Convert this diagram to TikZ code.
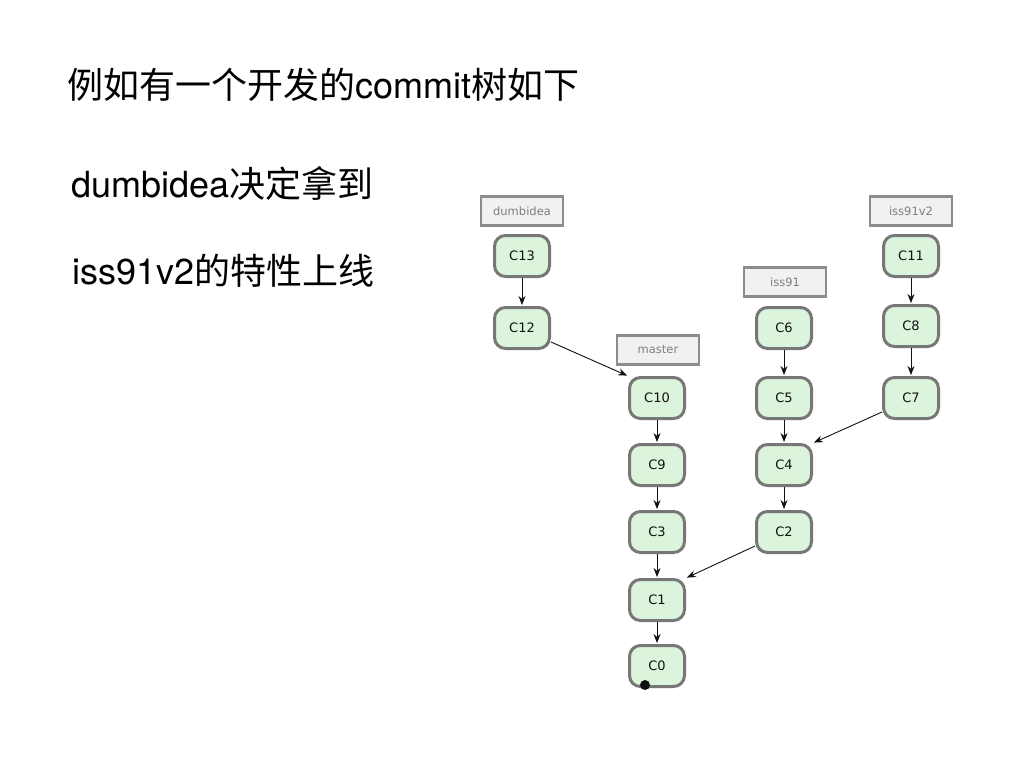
\documentclass[tikz,border=0pt]{standalone}
\usepackage{fontspec}
\usepackage{xcolor}
\usepackage{tikz}
\usetikzlibrary{arrows.meta,positioning}
\setmainfont{TeX Gyre Heros}
\newfontfamily\cjk{Noto Sans CJK SC}
\newfontfamily\lucida{DejaVu Sans}
\definecolor{ink}{HTML}{111111}
\definecolor{cgreen}{HTML}{DDF4DC}
\definecolor{cedge}{HTML}{777777}
\definecolor{lfill}{HTML}{F1F1F1}
\definecolor{ledge}{HTML}{8C8C8C}
\definecolor{ltext}{HTML}{7F7F7F}
\tikzset{
  commit/.style={draw=cedge, fill=cgreen, line width=3pt, rounded corners=11pt,
    minimum width=55pt, minimum height=41pt, inner sep=0pt,
    font=\lucida\fontsize{13}{15}\selectfont, text=ink},
  branch/.style={draw=ledge, fill=lfill, line width=2.4pt, minimum width=82pt,
    minimum height=29pt, inner sep=0pt, font=\lucida\fontsize{11.5}{13}\selectfont, text=ltext},
  parent/.style={-{Stealth[length=9pt,width=7pt]}, ink, line width=0.9pt, shorten >=1pt},
  slide/.style={anchor=base west, inner sep=0pt, font=\fontsize{36}{42}\selectfont},
}
\begin{document}
\begin{tikzpicture}[x=1pt, y=-1pt]
\useasboundingbox[fill=white] (0,0) rectangle (1024,768);
% slide text
\node[slide] (title) at (67,98) {{\cjk 例如有一个开发的}commit{\cjk 树如下}};
\node[slide] (line1) at (71,197) {dumbidea{\cjk 决定拿到}};
\node[slide] (line2) at (72,284) {iss91v2{\cjk 的特性上线}};
% branch labels
\node[branch] (dumbidea) at (522,211) {dumbidea};
\node[branch] (master) at (658,350) {master};
\node[branch] (iss91) at (785,282) {iss91};
\node[branch] (iss91v2) at (911,211) {iss91v2};
% commits
\node[commit] (C13) at (522,256) {C13};
\node[commit] (C12) at (522,328) {C12};
\node[commit] (C10) at (657,398) {C10};
\node[commit] (C9) at (657,465) {C9};
\node[commit] (C3) at (657,532) {C3};
\node[commit] (C1) at (657,600) {C1};
\node[commit] (C0) at (657,666) {C0};
\node[commit] (C6) at (784,328) {C6};
\node[commit] (C5) at (784,398) {C5};
\node[commit] (C4) at (784,465) {C4};
\node[commit] (C2) at (784,532) {C2};
\node[commit] (C11) at (911,256) {C11};
\node[commit] (C8) at (911,326) {C8};
\node[commit] (C7) at (911,398) {C7};
\fill[ink] (C0.south west) ++(17,-3) circle (5pt);
% history
\draw[parent] (C13) -- (C12);
\draw[parent] (C12.south east) ++(0,-8) coordinate (c12out) (c12out) -- (C10.north west);
\draw[parent] (C10) -- (C9);
\draw[parent] (C9) -- (C3);
\draw[parent] (C3) -- (C1);
\draw[parent] (C1) -- (C0);
\draw[parent] (C6) -- (C5);
\draw[parent] (C5) -- (C4);
\draw[parent] (C4) -- (C2);
\draw[parent] (C2.south west) ++(0,-8) coordinate (c2out) (c2out) -- (C1.north east);
\draw[parent] (C11) -- (C8);
\draw[parent] (C8) -- (C7);
\draw[parent] (C7.south west) ++(0,-8) coordinate (c7out) (c7out) -- (C4.north east);
\end{tikzpicture}
\end{document}
